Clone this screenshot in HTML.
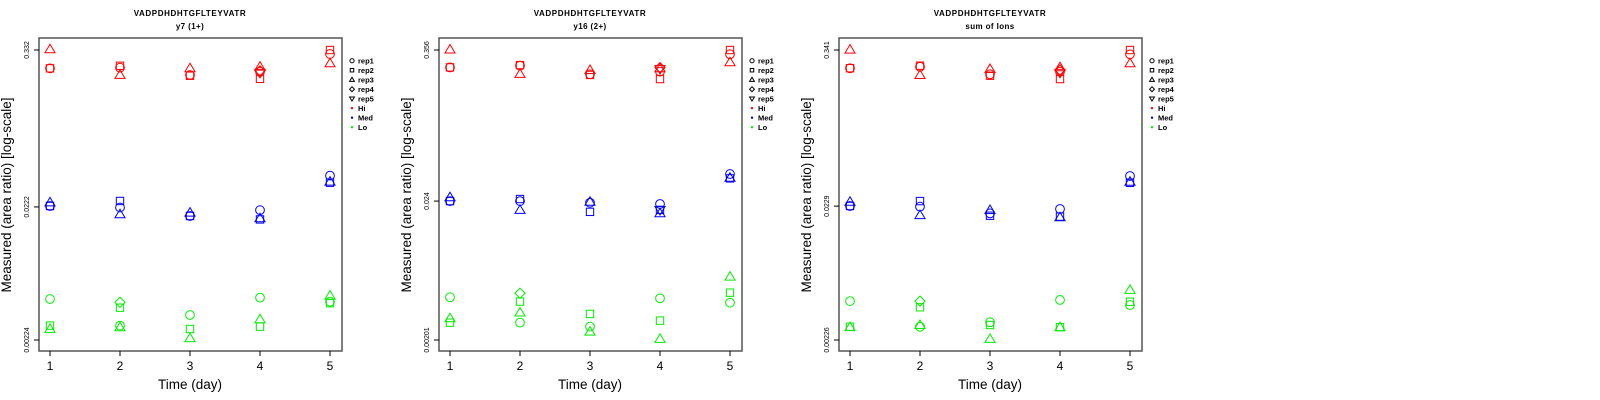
<!DOCTYPE html>
<html><head><meta charset="utf-8"><style>
body{margin:0;background:#fff;width:1600px;height:400px;overflow:hidden}
svg{display:block;font-family:"Liberation Sans",sans-serif}
</style></head><body>
<svg id="chart" width="1600" height="400" viewBox="0 0 1600 400"></svg>
<script>
const days = [1, 2, 3, 4, 5];
const panelTitles = ["y7 (1+)", "y16 (2+)", "sum of Ions"];
const peptide = "VADPDHDHTGFLTEYVATR";
const tickTop = [0.332, 0.356, 0.341];
const tickMid = [0.0222, 0.024, 0.0229];
const tickBot = [0.00224, 0.00201, 0.00226];
const tickTopLabels = ["0.332", "0.356", "0.341"];
const tickMidLabels = ["0.0222", "0.024", "0.0229"];
const tickBotLabels = ["0.00224", "0.00201", "0.00226"];
const groups = ["Hi", "Med", "Lo"];
const groupColors = ["#ff0000", "#0000ff", "#00ee00"];
const reps = ["rep1", "rep2", "rep3", "rep4", "rep5"];

// panel 1 : y7 (1+)
const p1HiRep1 = [0.242, 0.245, 0.216, 0.228, 0.310];
const p1HiRep2 = [0.242, 0.253, 0.213, 0.202, 0.332];
const p1HiRep3 = [0.336, 0.216, 0.242, 0.249, 0.264];
const p1HiRep4 = [null, null, null, 0.232, null];
const p1HiRep5 = [null, null, null, 0.224, null];
const p1MedRep1 = [0.02255, 0.0220, 0.0190, 0.0210, 0.0381];
const p1MedRep2 = [0.02255, 0.0246, 0.0190, 0.0179, 0.0337];
const p1MedRep3 = [0.0240, 0.01955, 0.0201, 0.01825, 0.0343];
const p1MedRep4 = [null, null, null, null, null];
const p1MedRep5 = [null, null, null, null, null];
const p1LoRep1 = [0.00454, 0.00287, 0.00345, 0.00465, 0.00434];
const p1LoRep2 = [0.00287, 0.00391, 0.00271, 0.00282, 0.00422];
const p1LoRep3 = [0.00271, 0.00279, 0.00231, 0.00320, 0.00481];
const p1LoRep4 = [null, 0.00429, null, null, null];
const p1LoRep5 = [null, null, null, null, null];

// panel 2 : y16 (2+)
const p2HiRep1 = [0.261, 0.269, 0.231, 0.242, 0.330];
const p2HiRep2 = [0.261, 0.272, 0.228, 0.212, 0.356];
const p2HiRep3 = [0.359, 0.232, 0.249, 0.257, 0.286];
const p2HiRep4 = [null, null, null, 0.260, null];
const p2HiRep5 = [null, null, null, 0.254, null];
const p2MedRep1 = [0.0240, 0.0240, 0.0233, 0.0228, 0.0389];
const p2MedRep2 = [0.0240, 0.0249, 0.0198, 0.0205, 0.0360];
const p2MedRep3 = [0.0257, 0.0205, 0.0237, 0.0193, 0.0364];
const p2MedRep4 = [null, null, null, null, null];
const p2MedRep5 = [null, null, null, 0.0205, null];
const p2LoRep1 = [0.00431, 0.00274, 0.00255, 0.00423, 0.00391];
const p2LoRep2 = [0.00274, 0.00399, 0.00320, 0.00284, 0.00468];
const p2LoRep3 = [0.00296, 0.00328, 0.00233, 0.00205, 0.00623];
const p2LoRep4 = [null, 0.00463, null, null, null];
const p2LoRep5 = [null, null, null, null, null];

// panel 3 : sum of ions
const p3HiRep1 = [0.2487, 0.255, 0.224, 0.2343, 0.3165];
const p3HiRep2 = [0.2487, 0.260, 0.2186, 0.2063, 0.341];
const p3HiRep3 = [0.343, 0.221, 0.2455, 0.2527, 0.271];
const p3HiRep4 = [null, null, null, 0.2414, null];
const p3HiRep5 = [null, null, null, 0.230, null];
const p3MedRep1 = [0.02295, 0.0227, 0.0202, 0.0218, 0.0386];
const p3MedRep2 = [0.02295, 0.0250, 0.0194, 0.0191, 0.0343];
const p3MedRep3 = [0.0247, 0.0196, 0.0214, 0.01887, 0.0349];
const p3MedRep4 = [null, null, null, null, null];
const p3MedRep5 = [null, null, null, null, null];
const p3LoRep1 = [0.00443, 0.00284, 0.00307, 0.00452, 0.00414];
const p3LoRep2 = [0.00284, 0.00398, 0.00293, 0.00282, 0.00438];
const p3LoRep3 = [0.00282, 0.00293, 0.00230, 0.00282, 0.00537];
const p3LoRep4 = [null, 0.00443, null, null, null];
const p3LoRep5 = [null, null, null, null, null];

const panelData = [
  [[p1HiRep1,p1HiRep2,p1HiRep3,p1HiRep4,p1HiRep5],[p1MedRep1,p1MedRep2,p1MedRep3,p1MedRep4,p1MedRep5],[p1LoRep1,p1LoRep2,p1LoRep3,p1LoRep4,p1LoRep5]],
  [[p2HiRep1,p2HiRep2,p2HiRep3,p2HiRep4,p2HiRep5],[p2MedRep1,p2MedRep2,p2MedRep3,p2MedRep4,p2MedRep5],[p2LoRep1,p2LoRep2,p2LoRep3,p2LoRep4,p2LoRep5]],
  [[p3HiRep1,p3HiRep2,p3HiRep3,p3HiRep4,p3HiRep5],[p3MedRep1,p3MedRep2,p3MedRep3,p3MedRep4,p3MedRep5],[p3LoRep1,p3LoRep2,p3LoRep3,p3LoRep4,p3LoRep5]]
];

const NS = "http://www.w3.org/2000/svg";
const svg = document.getElementById("chart");
function mk(tag, attrs, parent, text) {
  const e = document.createElementNS(NS, tag);
  for (const k in attrs) e.setAttribute(k, attrs[k]);
  if (text !== undefined) e.textContent = text;
  parent.appendChild(e);
  return e;
}
function marker(shape, cx, cy, s, color, parent) {
  let e;
  if (shape === 0) {
    e = mk("circle", {cx: cx, cy: cy, r: s * 0.95, fill: "none", stroke: color, "stroke-width": 1}, parent);
  } else if (shape === 1) {
    e = mk("rect", {x: cx - s * 0.8, y: cy - s * 0.8, width: s * 1.6, height: s * 1.6, fill: "none", stroke: color, "stroke-width": 1}, parent);
  } else if (shape === 2) {
    e = mk("polygon", {points: `${cx},${cy - s * 1.1} ${cx - s * 1.1},${cy + s * 0.75} ${cx + s * 1.1},${cy + s * 0.75}`, fill: "none", stroke: color, "stroke-width": 1}, parent);
  } else if (shape === 3) {
    e = mk("polygon", {points: `${cx},${cy - s * 1.1} ${cx + s * 1.1},${cy} ${cx},${cy + s * 1.1} ${cx - s * 1.1},${cy}`, fill: "none", stroke: color, "stroke-width": 1}, parent);
  } else {
    e = mk("polygon", {points: `${cx},${cy + s * 1.1} ${cx - s * 1.1},${cy - s * 0.75} ${cx + s * 1.1},${cy - s * 0.75}`, fill: "none", stroke: color, "stroke-width": 1}, parent);
  }
  return e;
}

for (let p = 0; p < 3; p++) {
  const ox = p * 400;
  const g = mk("g", {}, svg);
  
  
  const L = ox + 39, R = ox + 342, T = 38, B = 351;
  const lt = Math.log10(tickTop[p]), lb = Math.log10(tickBot[p]);
  const yS = v => 50 + (lt - Math.log10(v)) / (lt - lb) * 290;
  const xS = d => ox + 50 + (d - 1) * 70;

  const t1 = mk("text", {x: ox + 190, y: 16, "text-anchor": "middle", "font-size": 8, "font-weight": "bold", "letter-spacing": "0.6"}, g, peptide);
  
  
  const t2 = mk("text", {x: ox + 190, y: 29, "text-anchor": "middle", "font-size": 8, "font-weight": "bold", "letter-spacing": "0.4"}, g, panelTitles[p]);
  
  

  const box = mk("rect", {x: L, y: T, width: R - L, height: B - T, fill: "none", stroke: "#555", "stroke-width": 1.5}, g);
  
  

  // y ticks
  const tv = [tickTop[p], tickMid[p], tickBot[p]];
  const tl = [tickTopLabels[p], tickMidLabels[p], tickBotLabels[p]];
  for (let i = 0; i < 3; i++) {
    const y = yS(tv[i]);
    mk("line", {x1: L - 5, x2: L, y1: y, y2: y, stroke: "#000", "stroke-width": 1}, g);
    const lab = mk("text", {x: 0, y: 0, transform: `translate(${ox + 29},${y}) rotate(-90)`, "text-anchor": "middle", "font-size": 7}, g, tl[i]);
    
    
  }
  // x ticks
  for (let i = 0; i < days.length; i++) {
    const x = xS(days[i]);
    mk("line", {x1: x, x2: x, y1: B, y2: B + 5, stroke: "#000", "stroke-width": 1}, g);
    const lab = mk("text", {x: x, y: 370, "text-anchor": "middle", "font-size": 12}, g, String(days[i]));
    
    
  }
  const xt = mk("text", {x: ox + 190, y: 389, "text-anchor": "middle", "font-size": 13.5}, g, "Time (day)");
  
  
  const yt = mk("text", {x: 0, y: 0, transform: `translate(${ox + 11},195) rotate(-90)`, "text-anchor": "middle", "font-size": 13.5}, g, "Measured (area ratio) [log-scale]");
  
  

  // points
  for (let gi = 0; gi < 3; gi++) {
    for (let ri = 0; ri < 5; ri++) {
      const arr = panelData[p][gi][ri];
      for (let di = 0; di < days.length; di++) {
        if (arr[di] == null) continue;
        const m = marker(ri, xS(days[di]), yS(arr[di]), 4.6, groupColors[gi], g);
        
        
      }
    }
  }

  // legend
  const lg = mk("g", {}, g);
  
  
  const labels = reps.concat(groups);
  for (let i = 0; i < labels.length; i++) {
    const y = 60.7 + i * 9.5;
    const row = mk("g", {}, lg);
    
    
    if (i < 5) {
      marker(i, ox + 352, y, 2.2, "#000", row);
    } else {
      mk("circle", {cx: ox + 352, cy: y, r: 1.2, fill: groupColors[i - 5]}, row);
    }
    mk("text", {x: ox + 358, y: y + 2.8, "font-size": 7.5, "font-weight": "bold"}, row, labels[i]);
  }
}
</script>
</body></html>
